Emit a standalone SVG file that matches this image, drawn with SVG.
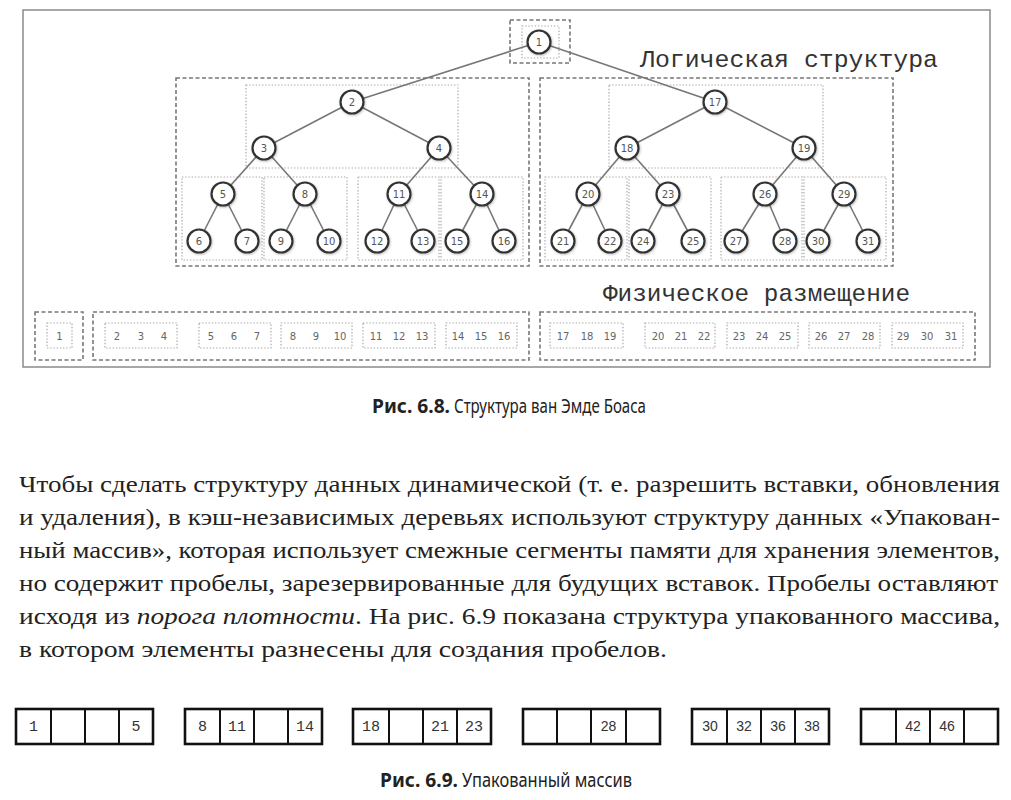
<svg xmlns="http://www.w3.org/2000/svg" width="1011" height="800" viewBox="0 0 1011 800">
<defs>
<style>
.frame{fill:none;stroke:#8a8a8a;stroke-width:1.5}
.dash{fill:none;stroke:#777;stroke-width:1.6;stroke-dasharray:4 2.5}
.dot{fill:none;stroke:#aaa;stroke-width:1.2;stroke-dasharray:1.4 1.8}
.edge{stroke:#777;stroke-width:1.6;fill:none}
.nc{fill:#fff;stroke:#333;stroke-width:2.2;filter:url(#sh)}
.nt{font-family:"DejaVu Sans",sans-serif;font-size:10px;fill:#555;text-anchor:middle}
.pt{font-family:"DejaVu Sans",sans-serif;font-size:10px;fill:#666;text-anchor:middle}
.lbl{font-family:"Liberation Mono",monospace;font-size:24px;fill:#333}
.para{font-family:"Liberation Serif",serif;font-size:24px;fill:#222}
.cap{font-family:"Noto Sans",sans-serif;font-size:20px;fill:#222}
.cell{fill:#fff;stroke:#111;stroke-width:2.6}
.div{stroke:#111;stroke-width:2}
.cm{font-family:"Liberation Mono",monospace;font-size:15px;fill:#333;text-anchor:middle}
.cs{font-family:"Liberation Sans",sans-serif;font-size:14px;fill:#333;text-anchor:middle}
</style>
<filter id="sh" x="-30%" y="-30%" width="160%" height="160%">
<feDropShadow dx="0.8" dy="1" stdDeviation="1" flood-color="#000" flood-opacity="0.25"/>
</filter>
</defs>
<rect x="0" y="0" width="1011" height="800" fill="#fff"/>
<rect class="frame" x="23" y="10" width="967" height="357"/>

<g id="boxes">
<rect class="dash" x="510" y="20" width="60" height="43"/>
<rect class="dot" x="522" y="26" width="37" height="32"/>
<rect class="dash" x="176" y="78" width="353" height="188"/>
<rect class="dash" x="540" y="78" width="353" height="188"/>
<rect class="dot" x="246" y="85" width="212" height="83"/>
<rect class="dot" x="609" y="85" width="214" height="83"/>
<rect class="dot" x="182" y="177" width="80" height="83"/>
<rect class="dot" x="264" y="177" width="83" height="83"/>
<rect class="dot" x="358" y="177" width="81" height="83"/>
<rect class="dot" x="441" y="177" width="82" height="83"/>
<rect class="dot" x="545" y="177" width="82" height="83"/>
<rect class="dot" x="629" y="177" width="82" height="83"/>
<rect class="dot" x="721" y="177" width="81" height="83"/>
<rect class="dot" x="804" y="177" width="82" height="83"/>
</g>

<text class="lbl" x="640" y="67" textLength="298" lengthAdjust="spacingAndGlyphs">Логическая структура</text>
<text class="lbl" x="603" y="301" textLength="307" lengthAdjust="spacingAndGlyphs">Физическое размещение</text>

<g id="connectors">
<line class="edge" x1="539" y1="42" x2="352" y2="102"/>
<line class="edge" x1="539" y1="42" x2="715" y2="102"/>
<line class="edge" x1="352" y1="102" x2="264" y2="148"/>
<line class="edge" x1="352" y1="102" x2="439" y2="148"/>
<line class="edge" x1="264" y1="148" x2="223" y2="194"/>
<line class="edge" x1="264" y1="148" x2="305" y2="194"/>
<line class="edge" x1="439" y1="148" x2="399" y2="194"/>
<line class="edge" x1="439" y1="148" x2="482" y2="194"/>
<line class="edge" x1="223" y1="194" x2="199" y2="241"/>
<line class="edge" x1="223" y1="194" x2="247" y2="241"/>
<line class="edge" x1="305" y1="194" x2="281" y2="241"/>
<line class="edge" x1="305" y1="194" x2="329" y2="241"/>
<line class="edge" x1="399" y1="194" x2="377" y2="241"/>
<line class="edge" x1="399" y1="194" x2="423" y2="241"/>
<line class="edge" x1="482" y1="194" x2="457" y2="241"/>
<line class="edge" x1="482" y1="194" x2="504" y2="241"/>
<line class="edge" x1="715" y1="102" x2="627" y2="148"/>
<line class="edge" x1="715" y1="102" x2="804" y2="148"/>
<line class="edge" x1="627" y1="148" x2="588" y2="194"/>
<line class="edge" x1="627" y1="148" x2="668" y2="194"/>
<line class="edge" x1="804" y1="148" x2="765" y2="194"/>
<line class="edge" x1="804" y1="148" x2="844" y2="194"/>
<line class="edge" x1="588" y1="194" x2="563" y2="241"/>
<line class="edge" x1="588" y1="194" x2="610" y2="241"/>
<line class="edge" x1="668" y1="194" x2="643" y2="241"/>
<line class="edge" x1="668" y1="194" x2="693" y2="241"/>
<line class="edge" x1="765" y1="194" x2="736" y2="241"/>
<line class="edge" x1="765" y1="194" x2="785" y2="241"/>
<line class="edge" x1="844" y1="194" x2="818" y2="241"/>
<line class="edge" x1="844" y1="194" x2="868" y2="241"/>
</g>

<g id="n1"><circle class="nc" cx="539" cy="42" r="11.5"/><text class="nt" x="539" y="45.5">1</text></g>
<g id="n2"><circle class="nc" cx="352" cy="102" r="11.5"/><text class="nt" x="352" y="105.5">2</text></g>
<g id="n3"><circle class="nc" cx="264" cy="148" r="11.5"/><text class="nt" x="264" y="151.5">3</text></g>
<g id="n4"><circle class="nc" cx="439" cy="148" r="11.5"/><text class="nt" x="439" y="151.5">4</text></g>
<g id="n5"><circle class="nc" cx="223" cy="194" r="11.5"/><text class="nt" x="223" y="197.5">5</text></g>
<g id="n8"><circle class="nc" cx="305" cy="194" r="11.5"/><text class="nt" x="305" y="197.5">8</text></g>
<g id="n11"><circle class="nc" cx="399" cy="194" r="11.5"/><text class="nt" x="399" y="197.5">11</text></g>
<g id="n14"><circle class="nc" cx="482" cy="194" r="11.5"/><text class="nt" x="482" y="197.5">14</text></g>
<g id="n6"><circle class="nc" cx="199" cy="241" r="11.5"/><text class="nt" x="199" y="244.5">6</text></g>
<g id="n7"><circle class="nc" cx="247" cy="241" r="11.5"/><text class="nt" x="247" y="244.5">7</text></g>
<g id="n9"><circle class="nc" cx="281" cy="241" r="11.5"/><text class="nt" x="281" y="244.5">9</text></g>
<g id="n10"><circle class="nc" cx="329" cy="241" r="11.5"/><text class="nt" x="329" y="244.5">10</text></g>
<g id="n12"><circle class="nc" cx="377" cy="241" r="11.5"/><text class="nt" x="377" y="244.5">12</text></g>
<g id="n13"><circle class="nc" cx="423" cy="241" r="11.5"/><text class="nt" x="423" y="244.5">13</text></g>
<g id="n15"><circle class="nc" cx="457" cy="241" r="11.5"/><text class="nt" x="457" y="244.5">15</text></g>
<g id="n16"><circle class="nc" cx="504" cy="241" r="11.5"/><text class="nt" x="504" y="244.5">16</text></g>
<g id="n17"><circle class="nc" cx="715" cy="102" r="11.5"/><text class="nt" x="715" y="105.5">17</text></g>
<g id="n18"><circle class="nc" cx="627" cy="148" r="11.5"/><text class="nt" x="627" y="151.5">18</text></g>
<g id="n19"><circle class="nc" cx="804" cy="148" r="11.5"/><text class="nt" x="804" y="151.5">19</text></g>
<g id="n20"><circle class="nc" cx="588" cy="194" r="11.5"/><text class="nt" x="588" y="197.5">20</text></g>
<g id="n23"><circle class="nc" cx="668" cy="194" r="11.5"/><text class="nt" x="668" y="197.5">23</text></g>
<g id="n26"><circle class="nc" cx="765" cy="194" r="11.5"/><text class="nt" x="765" y="197.5">26</text></g>
<g id="n29"><circle class="nc" cx="844" cy="194" r="11.5"/><text class="nt" x="844" y="197.5">29</text></g>
<g id="n21"><circle class="nc" cx="563" cy="241" r="11.5"/><text class="nt" x="563" y="244.5">21</text></g>
<g id="n22"><circle class="nc" cx="610" cy="241" r="11.5"/><text class="nt" x="610" y="244.5">22</text></g>
<g id="n24"><circle class="nc" cx="643" cy="241" r="11.5"/><text class="nt" x="643" y="244.5">24</text></g>
<g id="n25"><circle class="nc" cx="693" cy="241" r="11.5"/><text class="nt" x="693" y="244.5">25</text></g>
<g id="n27"><circle class="nc" cx="736" cy="241" r="11.5"/><text class="nt" x="736" y="244.5">27</text></g>
<g id="n28"><circle class="nc" cx="785" cy="241" r="11.5"/><text class="nt" x="785" y="244.5">28</text></g>
<g id="n30"><circle class="nc" cx="818" cy="241" r="11.5"/><text class="nt" x="818" y="244.5">30</text></g>
<g id="n31"><circle class="nc" cx="868" cy="241" r="11.5"/><text class="nt" x="868" y="244.5">31</text></g>

<g id="physical">
<rect class="dash" x="35" y="312" width="48" height="48"/>
<rect class="dot" x="47" y="323" width="25" height="25"/>
<text class="pt" x="59.5" y="339.5">1</text>
<rect class="dash" x="93" y="312" width="436" height="48"/>
<rect class="dash" x="540" y="312" width="435" height="48"/>
<rect class="dot" x="105" y="323" width="72" height="25"/>
<rect class="dot" x="199" y="323" width="72" height="25"/>
<rect class="dot" x="281" y="323" width="71" height="25"/>
<rect class="dot" x="363" y="323" width="72" height="25"/>
<rect class="dot" x="446" y="323" width="71" height="25"/>
<rect class="dot" x="550" y="323" width="73" height="25"/>
<rect class="dot" x="645" y="323" width="70" height="25"/>
<rect class="dot" x="727" y="323" width="71" height="25"/>
<rect class="dot" x="809" y="323" width="71" height="25"/>
<rect class="dot" x="892" y="323" width="71" height="25"/>
<text class="pt" x="117" y="339.5">2</text><text class="pt" x="141" y="339.5">3</text><text class="pt" x="164" y="339.5">4</text>
<text class="pt" x="211" y="339.5">5</text><text class="pt" x="234" y="339.5">6</text><text class="pt" x="257" y="339.5">7</text>
<text class="pt" x="293" y="339.5">8</text><text class="pt" x="316" y="339.5">9</text><text class="pt" x="340" y="339.5">10</text>
<text class="pt" x="376" y="339.5">11</text><text class="pt" x="399" y="339.5">12</text><text class="pt" x="422" y="339.5">13</text>
<text class="pt" x="458" y="339.5">14</text><text class="pt" x="481" y="339.5">15</text><text class="pt" x="504" y="339.5">16</text>
<text class="pt" x="563" y="339.5">17</text><text class="pt" x="587" y="339.5">18</text><text class="pt" x="610" y="339.5">19</text>
<text class="pt" x="658" y="339.5">20</text><text class="pt" x="681" y="339.5">21</text><text class="pt" x="704" y="339.5">22</text>
<text class="pt" x="739" y="339.5">23</text><text class="pt" x="762" y="339.5">24</text><text class="pt" x="785" y="339.5">25</text>
<text class="pt" x="821" y="339.5">26</text><text class="pt" x="844" y="339.5">27</text><text class="pt" x="868" y="339.5">28</text>
<text class="pt" x="903" y="339.5">29</text><text class="pt" x="927" y="339.5">30</text><text class="pt" x="951" y="339.5">31</text>
</g>

<g id="caption1">
<text class="cap" x="372" y="413" font-weight="700" textLength="78" lengthAdjust="spacingAndGlyphs">Рис. 6.8.</text>
<text class="cap" x="454" y="413" textLength="192" lengthAdjust="spacingAndGlyphs">Структура ван Эмде Боаса</text>
</g>

<g id="paragraph">
<text class="para" x="19" y="492" textLength="981" lengthAdjust="spacingAndGlyphs">Чтобы сделать структуру данных динамической (т. е. разрешить вставки, обновления</text>
<text class="para" x="19" y="525" textLength="981" lengthAdjust="spacingAndGlyphs">и удаления), в кэш-независимых деревьях используют структуру данных «Упакован-</text>
<text class="para" x="19" y="558" textLength="981" lengthAdjust="spacingAndGlyphs">ный массив», которая использует смежные сегменты памяти для хранения элементов,</text>
<text class="para" x="19" y="591" textLength="979" lengthAdjust="spacingAndGlyphs">но содержит пробелы, зарезервированные для будущих вставок. Пробелы оставляют</text>
<text class="para" x="19" y="624" textLength="981" lengthAdjust="spacingAndGlyphs">исходя из <tspan font-style="italic">порога плотности</tspan>. На рис. 6.9 показана структура упакованного массива,</text>
<text class="para" x="19" y="657" textLength="648" lengthAdjust="spacingAndGlyphs">в котором элементы разнесены для создания пробелов.</text>
</g>

<g id="packed">
<g id="pa1">
<rect class="cell" x="16" y="709" width="137" height="35"/>
<line class="div" x1="51" y1="709" x2="51" y2="744"/><line class="div" x1="85" y1="709" x2="85" y2="744"/><line class="div" x1="119" y1="709" x2="119" y2="744"/>
<text class="cm" x="33.5" y="731">1</text><text class="cm" x="136" y="731">5</text>
</g>
<g id="pa2">
<rect class="cell" x="185" y="709" width="137" height="35"/>
<line class="div" x1="220" y1="709" x2="220" y2="744"/><line class="div" x1="254" y1="709" x2="254" y2="744"/><line class="div" x1="288" y1="709" x2="288" y2="744"/>
<text class="cm" x="202.5" y="731">8</text><text class="cm" x="237" y="731">11</text><text class="cm" x="305" y="731">14</text>
</g>
<g id="pa3">
<rect class="cell" x="353" y="709" width="138" height="35"/>
<line class="div" x1="389" y1="709" x2="389" y2="744"/><line class="div" x1="423" y1="709" x2="423" y2="744"/><line class="div" x1="457" y1="709" x2="457" y2="744"/>
<text class="cm" x="371" y="731">18</text><text class="cm" x="440" y="731">21</text><text class="cm" x="474" y="731">23</text>
</g>
<g id="pa4">
<rect class="cell" x="523" y="709" width="137" height="35"/>
<line class="div" x1="557" y1="709" x2="557" y2="744"/><line class="div" x1="591" y1="709" x2="591" y2="744"/><line class="div" x1="626" y1="709" x2="626" y2="744"/>
<text class="cs" x="608.5" y="731">28</text>
</g>
<g id="pa5">
<rect class="cell" x="692" y="709" width="137" height="35"/>
<line class="div" x1="727" y1="709" x2="727" y2="744"/><line class="div" x1="761" y1="709" x2="761" y2="744"/><line class="div" x1="795" y1="709" x2="795" y2="744"/>
<text class="cs" x="710" y="731">30</text><text class="cs" x="744" y="731">32</text><text class="cs" x="778" y="731">36</text><text class="cs" x="812" y="731">38</text>
</g>
<g id="pa6">
<rect class="cell" x="861" y="709" width="137" height="35"/>
<line class="div" x1="896" y1="709" x2="896" y2="744"/><line class="div" x1="930" y1="709" x2="930" y2="744"/><line class="div" x1="964" y1="709" x2="964" y2="744"/>
<text class="cs" x="913" y="731">42</text><text class="cs" x="947" y="731">46</text>
</g>
</g>

<g id="caption2">
<text class="cap" x="380" y="787" font-weight="700" textLength="78" lengthAdjust="spacingAndGlyphs">Рис. 6.9.</text>
<text class="cap" x="462" y="787" textLength="170" lengthAdjust="spacingAndGlyphs">Упакованный массив</text>
</g>
</svg>
